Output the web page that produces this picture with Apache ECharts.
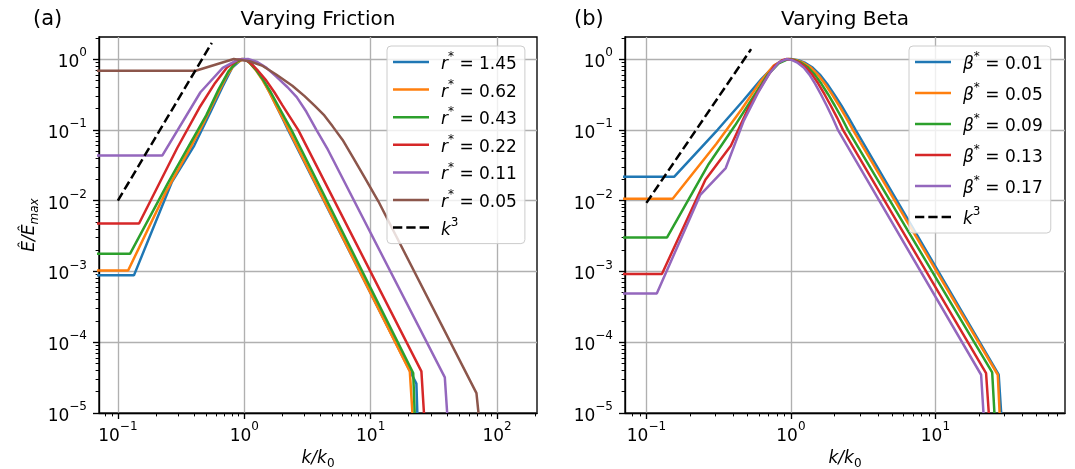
<!DOCTYPE html>
<html><head><meta charset="utf-8">
<script src="https://cdn.jsdelivr.net/npm/echarts@6/dist/echarts.min.js"></script>
<style>html,body{margin:0;padding:0;background:#fff}#c{width:1075px;height:469px}</style>
</head><body><div id="c"></div>
<script>
// ---------- data (k/k0, E/Emax) ----------
const frictionNames = ['r* = 1.45','r* = 0.62','r* = 0.43','r* = 0.22','r* = 0.11','r* = 0.05'];
const r145 = [[0.05,8.8e-4],[0.134,8.8e-4],[0.268,0.0185],[0.402,0.06],[0.536,0.173],[0.67,0.4],[0.804,0.76],[0.938,0.97],[1.0,1.0],[1.06,0.97],[1.122,0.89],[1.259,0.69],[1.413,0.5],[1.585,0.34],[1.778,0.224],[1.995,0.148],[2.22,0.1],[23.0,2.6e-5],[23.4,1e-5]];
const r062 = [[0.05,1.03e-3],[0.1205,1.03e-3],[0.241,0.0135],[0.361,0.0495],[0.482,0.131],[0.602,0.296],[0.723,0.569],[0.843,0.86],[0.98,1.0],[1.04,0.97],[1.10,0.89],[1.24,0.69],[1.40,0.5],[1.58,0.34],[1.78,0.224],[2.01,0.148],[2.25,0.1],[20.4,3.87e-5],[21.4,1e-5]];
const r043 = [[0.05,1.78e-3],[0.125,1.78e-3],[0.25,0.018],[0.375,0.065],[0.5,0.16],[0.625,0.37],[0.75,0.67],[0.875,0.92],[0.966,1.0],[1.03,0.97],[1.10,0.89],[1.25,0.69],[1.42,0.5],[1.62,0.34],[1.84,0.224],[2.09,0.148],[2.36,0.1],[21.7,3.67e-5],[22.3,1e-5]];
const r022 = [[0.05,4.76e-3],[0.147,4.76e-3],[0.294,0.055],[0.441,0.205],[0.588,0.46],[0.735,0.77],[0.882,0.96],[0.955,1.0],[1.03,0.97],[1.11,0.89],[1.28,0.69],[1.49,0.5],[1.73,0.34],[2.0,0.224],[2.32,0.148],[2.67,0.1],[25.2,3.87e-5],[26.4,1e-5]];
const r011 = [[0.05,0.0435],[0.225,0.0435],[0.45,0.34],[0.675,0.75],[0.9,0.99],[1.07,1.0],[1.25,0.92],[1.5,0.75],[1.8,0.56],[2.2,0.4],[2.6,0.29],[3.1,0.18],[3.72,0.1],[4.6,0.052],[38.6,3.18e-5],[40.3,1e-5]];
const r005 = [[0.05,0.684],[0.413,0.684],[0.826,1.0],[1.1,0.93],[1.4,0.8],[1.8,0.6],[2.4,0.42],[3.0,0.3],[3.6,0.22],[4.3,0.16],[5.0,0.112],[6.0,0.072],[7.3,0.04],[9.0,0.021],[11.5,0.0098],[68.7,1.91e-5],[71.3,1e-5]];
const k3Left = [[0.1,0.01],[0.553,1.69]];

const betaNames = ['β* = 0.01','β* = 0.05','β* = 0.09','β* = 0.13','β* = 0.17'];
const b001 = [[0.05,0.0218],[0.156,0.0218],[0.312,0.101],[0.468,0.26],[0.624,0.52],[0.78,0.83],[0.87,0.94],[0.936,0.99],[1.0,1.0],[1.122,0.966],[1.259,0.881],[1.413,0.759],[1.585,0.603],[1.778,0.447],[1.995,0.316],[2.239,0.219],[2.512,0.148],[2.8,0.1],[27.4,3.47e-5],[28.5,1e-5]];
const b005 = [[0.05,0.01064],[0.152,0.01064],[0.304,0.063],[0.456,0.195],[0.608,0.465],[0.76,0.81],[0.86,0.94],[0.912,0.98],[0.977,1.0],[1.094,0.966],[1.225,0.881],[1.374,0.759],[1.535,0.603],[1.718,0.447],[1.928,0.316],[2.158,0.219],[2.415,0.148],[2.685,0.1],[27.0,3.47e-5],[27.8,1e-5]];
const b009 = [[0.05,0.00302],[0.139,0.00302],[0.27,0.033],[0.41,0.115],[0.55,0.295],[0.69,0.6],[0.83,0.88],[0.955,1.0],[1.062,0.966],[1.183,0.881],[1.315,0.759],[1.462,0.603],[1.626,0.447],[1.811,0.316],[2.014,0.219],[2.244,0.148],[2.477,0.1],[24.7,3.74e-5],[25.6,1e-5]];
const b013 = [[0.05,9.19e-4],[0.128,9.19e-4],[0.256,0.0197],[0.384,0.0596],[0.512,0.21],[0.64,0.45],[0.768,0.8],[0.87,0.96],[0.944,1.0],[1.042,0.966],[1.151,0.881],[1.27,0.759],[1.403,0.603],[1.549,0.447],[1.71,0.316],[1.888,0.219],[2.089,0.148],[2.291,0.1],[22.4,3.67e-5],[23.4,1e-5]];
const b017 = [[0.05,4.89e-4],[0.118,4.89e-4],[0.236,0.0121],[0.354,0.0289],[0.472,0.135],[0.59,0.33],[0.708,0.62],[0.826,0.9],[0.929,1.0],[1.019,0.966],[1.117,0.881],[1.225,0.759],[1.343,0.603],[1.472,0.447],[1.614,0.316],[1.77,0.219],[1.941,0.148],[2.113,0.1],[20.7,3.47e-5],[21.5,1e-5]];
const k3Right = [[0.1,0.0093],[0.53,1.38]];

// ---------- ticks ----------
const xMajorL = [0.1, 1, 10, 100];
const xMajorR = [0.1, 1, 10];
const yMajor = [1e-5, 1e-4, 1e-3, 1e-2, 1e-1, 1];
const xMinorL = [0.08,0.09,0.2,0.3,0.4,0.5,0.6,0.7,0.8,0.9,2,3,4,5,6,7,8,9,20,30,40,50,60,70,80,90,200];
const xMinorR = [0.08,0.09,0.2,0.3,0.4,0.5,0.6,0.7,0.8,0.9,2,3,4,5,6,7,8,9,20,30,40,50,60,70];
const yMinor = [2e-5,3e-5,4e-5,5e-5,6e-5,7e-5,8e-5,9e-5,2e-4,3e-4,4e-4,5e-4,6e-4,7e-4,8e-4,9e-4,
  2e-3,3e-3,4e-3,5e-3,6e-3,7e-3,8e-3,9e-3,0.02,0.03,0.04,0.05,0.06,0.07,0.08,0.09,0.2,0.3,0.4,0.5,0.6,0.7,0.8,0.9,2];

const colors = ['#1f77b4','#ff7f0e','#2ca02c','#d62728','#9467bd','#8c564b'];
const FONT = 'DejaVu Sans';

const richTick = {
  b: {fontSize: 17, lineHeight: 24, verticalAlign: 'bottom', fontFamily: FONT, color: '#000'},
  s: {fontSize: 12, lineHeight: 12, verticalAlign: 'top', fontFamily: FONT, color: '#000'}
};
function tickFmt(v) {
  const e = Math.round(Math.log10(v));
  return '{b|10}{s|' + (e < 0 ? '\u2212' + (-e) : e) + '}';
}
const richName = {
  i: {fontSize: 17, lineHeight: 20, verticalAlign: 'top', fontStyle: 'italic', fontFamily: FONT, color: '#000'},
  sub: {fontSize: 12, lineHeight: 10, verticalAlign: 'bottom', fontFamily: FONT, color: '#000'},
  subi: {fontSize: 12, lineHeight: 10, verticalAlign: 'bottom', fontStyle: 'italic', fontFamily: FONT, color: '#000'}
};

function mainX(gi, min, max, majors) {
  return {
    type: 'log', logBase: 10, gridIndex: gi, min: min, max: max, position: 'bottom',
    axisLine: {show: true, onZero: false, lineStyle: {color: '#000', width: 1.35}},
    axisTick: {show: true, inside: false, length: 6, lineStyle: {color: '#000', width: 1.35}, customValues: majors},
    axisLabel: {show: true, margin: 8, customValues: majors, formatter: tickFmt, rich: richTick, color: '#000'},
    splitLine: {show: true, lineStyle: {color: '#b0b0b0', width: 1.35}},
    minorTick: {show: false}, minorSplitLine: {show: false},
    name: '{i|k/k}{sub|0}', nameLocation: 'middle', nameGap: 30,
    nameTextStyle: {rich: richName}
  };
}
function minorX(gi, min, max, vals) {
  return {
    type: 'log', logBase: 10, gridIndex: gi, min: min, max: max, position: 'bottom',
    axisLine: {show: false}, axisLabel: {show: false}, splitLine: {show: false},
    axisTick: {show: true, inside: false, length: 3.4, lineStyle: {color: '#000', width: 1}, customValues: vals}
  };
}
function mainY(gi, withName) {
  const a = {
    type: 'log', logBase: 10, gridIndex: gi, min: 1e-5, max: 2.05, position: 'left',
    axisLine: {show: true, onZero: false, lineStyle: {color: '#000', width: 1.35}},
    axisTick: {show: true, inside: false, length: 6, lineStyle: {color: '#000', width: 1.35}, customValues: yMajor},
    axisLabel: {show: true, margin: 12, customValues: yMajor, formatter: tickFmt, rich: richTick, color: '#000'},
    splitLine: {show: true, lineStyle: {color: '#b0b0b0', width: 1.35}},
    minorTick: {show: false}, minorSplitLine: {show: false}
  };
  if (withName) {
    a.name = '{i|\u00CA/\u00CA}{subi|max}';
    a.nameLocation = 'middle';
    a.nameRotate = 90;
    a.nameGap = 58;
    a.nameTextStyle = {rich: richName};
  }
  return a;
}
function minorY(gi) {
  return {
    type: 'log', logBase: 10, gridIndex: gi, min: 1e-5, max: 2.05, position: 'left',
    axisLine: {show: false}, axisLabel: {show: false}, splitLine: {show: false},
    axisTick: {show: true, inside: false, length: 3.4, lineStyle: {color: '#000', width: 1}, customValues: yMinor}
  };
}

function lineSeries(name, data, color, xi, yi) {
  return {
    type: 'line', name: name, data: data, xAxisIndex: xi, yAxisIndex: yi,
    symbol: 'none', showSymbol: false, smooth: false, clip: true, animation: false,
    lineStyle: {color: color, width: 2.5}, itemStyle: {color: color}
  };
}
function dashSeries(data, xi, yi) {
  return {
    type: 'line', name: 'k^3', data: data, xAxisIndex: xi, yAxisIndex: yi,
    symbol: 'none', showSymbol: false, clip: true, animation: false,
    lineStyle: {color: '#000', width: 2.5, type: [9, 4]}, itemStyle: {color: '#000'}
  };
}

const legendRich = {
  i: {fontSize: 17, lineHeight: 22, verticalAlign: 'bottom', fontStyle: 'italic', fontFamily: FONT, color: '#000'},
  s: {fontSize: 12, lineHeight: 12, verticalAlign: 'top', fontFamily: FONT, color: '#000'},
  n: {fontSize: 17, lineHeight: 22, verticalAlign: 'bottom', fontFamily: FONT, color: '#000'}
};
function legendFmt(name) {
  if (name === 'k^3') return '{i|k}{s|3}';
  const m = name.match(/^(.)\* = (.*)$/);
  return '{i|' + m[1] + '}{s|*}{n| = ' + m[2] + '}';
}
const dashIcon = 'path://M0,0h9.3v2.5h-9.3z M13.3,0h9.3v2.5h-9.3z M26.6,0h9.4v2.5h-9.4z';
function legendCfg(left, names, gap) {
  return {
    orient: 'vertical', left: left, top: 46,
    data: names.map(n => ({name: n, icon: 'rect'})).concat([{name: 'k^3', icon: dashIcon}]),
    itemWidth: 36, itemHeight: 2.5, itemGap: gap,
    itemStyle: {borderWidth: 0},
    padding: [5, 8, 5, 6],
    backgroundColor: 'rgba(255,255,255,0.8)', borderColor: '#cccccc', borderWidth: 1, borderRadius: 4,
    formatter: legendFmt,
    textStyle: {fontSize: 17, fontFamily: FONT, color: '#000', rich: legendRich, padding: [0, 0, 0, 7]},
    selectedMode: false
  };
}

const leftSets = [r145, r062, r043, r022, r011, r005];
const rightSets = [b001, b005, b009, b013, b017];
const series = [];
leftSets.forEach((d, i) => series.push(lineSeries(frictionNames[i], d, colors[i], 0, 0)));
series.push(dashSeries(k3Left, 0, 0));
rightSets.forEach((d, i) => series.push(lineSeries(betaNames[i], d, colors[i], 2, 2)));
series.push(dashSeries(k3Right, 2, 2));

const option = {
  animation: false,
  backgroundColor: '#fff',
  textStyle: {fontFamily: FONT},
  grid: [
    {left: 99, top: 37, width: 438, height: 376, show: true, borderColor: '#000', borderWidth: 1.35, backgroundColor: 'transparent', containLabel: false, outerBoundsMode: 'none'},
    {left: 625, top: 37, width: 440, height: 376, show: true, borderColor: '#000', borderWidth: 1.35, backgroundColor: 'transparent', containLabel: false, outerBoundsMode: 'none'}
  ],
  xAxis: [
    mainX(0, 0.0709, 207, xMajorL), minorX(0, 0.0709, 207, xMinorL),
    mainX(1, 0.0711, 78.8, xMajorR), minorX(1, 0.0711, 78.8, xMinorR)
  ],
  yAxis: [mainY(0, true), minorY(0), mainY(1, false), minorY(1)],
  legend: [legendCfg(387, frictionNames, 5.6), legendCfg(909, betaNames, 9)],
  graphic: [
    {type: 'text', x: 318, y: 20, style: {text: 'Varying Friction', fontSize: 20, fontFamily: FONT, fill: '#000', align: 'center', verticalAlign: 'middle'}},
    {type: 'text', x: 845, y: 20, style: {text: 'Varying Beta', fontSize: 20, fontFamily: FONT, fill: '#000', align: 'center', verticalAlign: 'middle'}},
    {type: 'text', x: 33, y: 20, style: {text: '(a)', fontSize: 21, fontFamily: FONT, fill: '#000', align: 'left', verticalAlign: 'middle'}},
    {type: 'text', x: 574, y: 20, style: {text: '(b)', fontSize: 21, fontFamily: FONT, fill: '#000', align: 'left', verticalAlign: 'middle'}}
  ],
  series: series
};
const chart = echarts.init(document.getElementById('c'), null, {renderer: 'canvas'});
chart.setOption(option);
</script>
</body></html>
